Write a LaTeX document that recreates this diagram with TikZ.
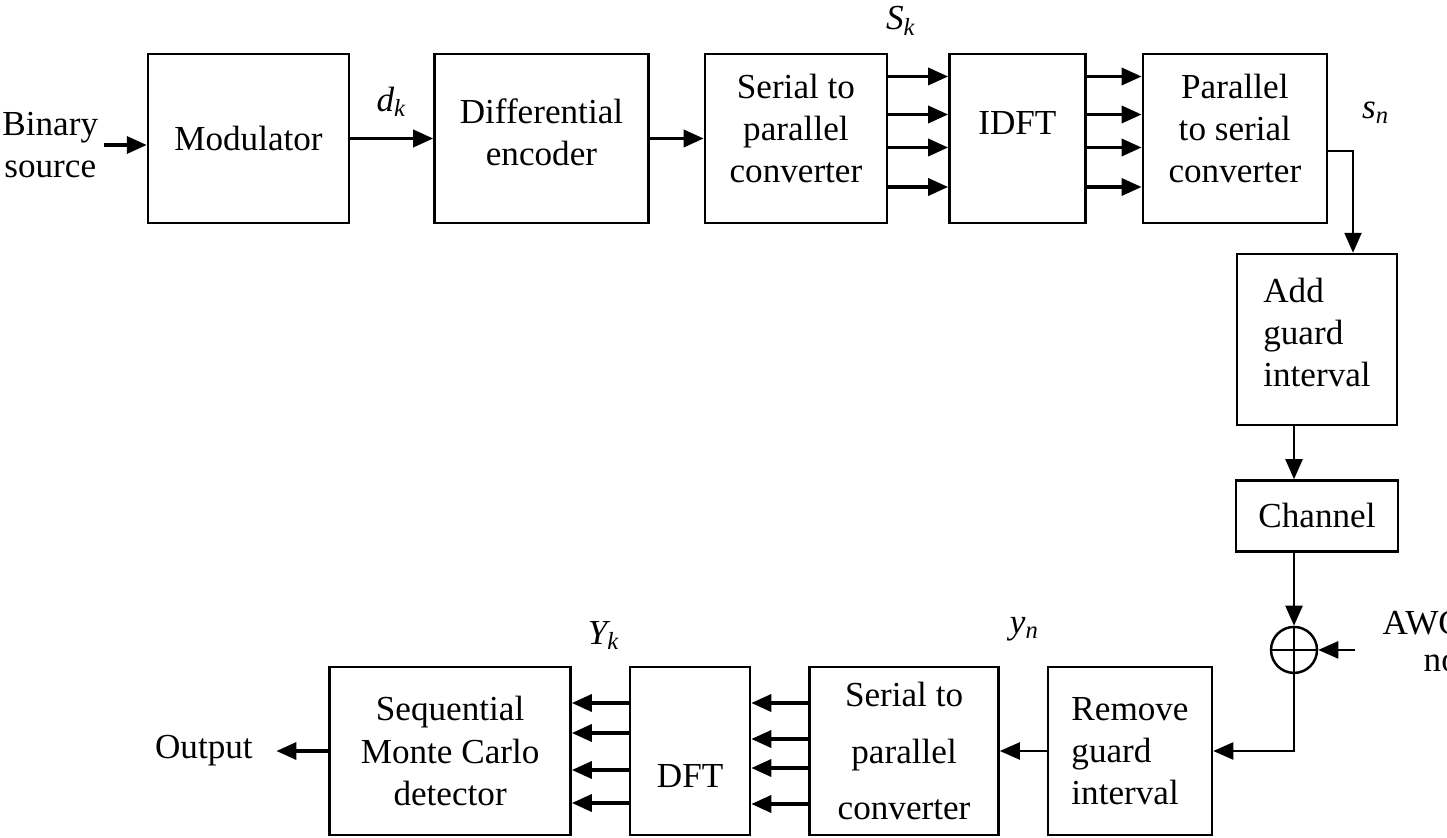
\documentclass[tikz,border=0pt]{standalone}
\usepackage{fontspec}
\setmainfont{Liberation Serif}
\usetikzlibrary{arrows.meta,positioning}

\begin{document}
\begin{tikzpicture}[
  box/.style={rectangle, draw, line width=0.7pt, align=center, inner sep=1pt},
  tallbox/.style={box, minimum height=16.9mm},
  lowbox/.style={box, minimum height=16.8mm},
  txt/.style={inner sep=0pt, align=center},
  lbl/.style={inner sep=0pt, font=\itshape},
  arr/.style={-{Triangle[length=2mm,width=1.7mm]}, line width=1pt},
  thinarr/.style={arr, line width=0.65pt},
  wire/.style={line width=0.7pt}
]
\useasboundingbox (0,0) rectangle (144.7mm,-83.8mm);
\clip (0,0) rectangle (144.7mm,-83.8mm);

\node[tallbox, minimum width=20.1mm] (mod) at (24.85mm,-13.85mm) {Modulator};
\node[tallbox, minimum width=21.4mm, right=8.3mm of mod, text depth=1.2mm] (diff) {Differential\\encoder};
\node[tallbox, minimum width=18.2mm, right=5.4mm of diff, text depth=2mm] (sp) {Serial to\\parallel\\converter};
\node[tallbox, minimum width=13.6mm, right=6.0mm of sp, text depth=3.1mm] (idft) {IDFT};
\node[tallbox, minimum width=18.4mm, right=5.5mm of idft, text depth=2mm] (ps) {Parallel\\to serial\\converter};
\node[txt, inner xsep=0.5mm, left=4.3mm of mod, yshift=-0.65mm] (src) {Binary\\source};

\node[box, minimum width=16.0mm, minimum height=17.1mm, align=left, text depth=1.4mm] (add) at (131.7mm,-33.95mm) {Add\\guard\\interval};
\node[box, minimum width=16.2mm, minimum height=7.1mm, below=5.3mm of add] (chan) {Channel};
\node[circle, draw, line width=0.7pt, minimum size=4.6mm, inner sep=0pt, below=7.3mm of chan.south, xshift=-2.3mm] (sum) {};
\node[txt, anchor=west] (awgn) at (138.2mm,-62.3mm) {AWGN};
\node[txt, anchor=west] (noise) at (142.3mm,-66.0mm) {noise};

\node[lowbox, minimum width=16.4mm, align=left] (rem) at (113.0mm,-75.1mm) {Remove\\guard\\interval};
\node[lowbox, minimum width=18.9mm, left=4.7mm of rem] (sp2) {Serial to\\[4pt]parallel\\[4pt]converter};
\node[lowbox, minimum width=12.0mm, left=5.7mm of sp2, text height=7.3mm] (dft) {DFT};
\node[lowbox, minimum width=24.1mm, left=5.7mm of dft] (smc) {Sequential\\Monte Carlo\\detector};
\node[txt, inner xsep=2.3mm, left=5.2mm of smc] (out) {Output};

\draw[arr] (src.east) -- (src.east -| mod.west);
\draw[arr] (mod) -- node[lbl, above=2mm] (dk) {d\textsubscript{k}} (diff);
\draw[arr] (diff) -- (sp);
\foreach \dy in {6.2,2.4,-0.9,-4.85} {
  \draw[arr] ([yshift=\dy mm]sp.east) -- ([yshift=\dy mm]idft.west);
  \draw[arr] ([yshift=\dy mm]idft.east) -- ([yshift=\dy mm]ps.west);
}
\draw[thinarr] ([yshift=-1.25mm]ps.east) -| ([xshift=3.6mm]add.north);
\draw[thinarr] ([xshift=-2.3mm]add.south) -- ([xshift=-2.3mm]add.south |- chan.north);
\draw[thinarr] ([xshift=-2.3mm]chan.south) -- (sum.north);
\draw[wire] (sum.north) -- (sum.south) (sum.west) -- (sum.east);
\coordinate (awgnin) at ([xshift=3.7mm]sum.east);
\draw[thinarr] (awgnin) -- (sum.east);
\draw[thinarr] (sum.south) |- (rem.east);
\draw[thinarr] (rem) -- (sp2);
\foreach \dy in {4.8,1.2,-1.7,-5.3}
  \draw[arr] ([yshift=\dy mm]sp2.west) -- ([yshift=\dy mm]dft.east);
\foreach \dy in {4.8,1.8,-1.9,-5.2}
  \draw[arr] ([yshift=\dy mm]dft.west) -- ([yshift=\dy mm]smc.east);
\draw[arr] (smc) -- (out);

\node[lbl] (sk) at ([xshift=1.3mm,yshift=3.2mm]sp.north east) {S\textsubscript{k}};
\node[lbl] (sn) at ([xshift=4.8mm,yshift=2.55mm]ps.east) {s\textsubscript{n}};
\node[lbl] (yn) at ([xshift=-2.2mm,yshift=3.7mm]rem.north west) {y\textsubscript{n}};
\node[lbl] (yk) at ([xshift=-2.5mm,yshift=3.0mm]dft.north west) {Y\textsubscript{k}};
\end{tikzpicture}
\end{document}
